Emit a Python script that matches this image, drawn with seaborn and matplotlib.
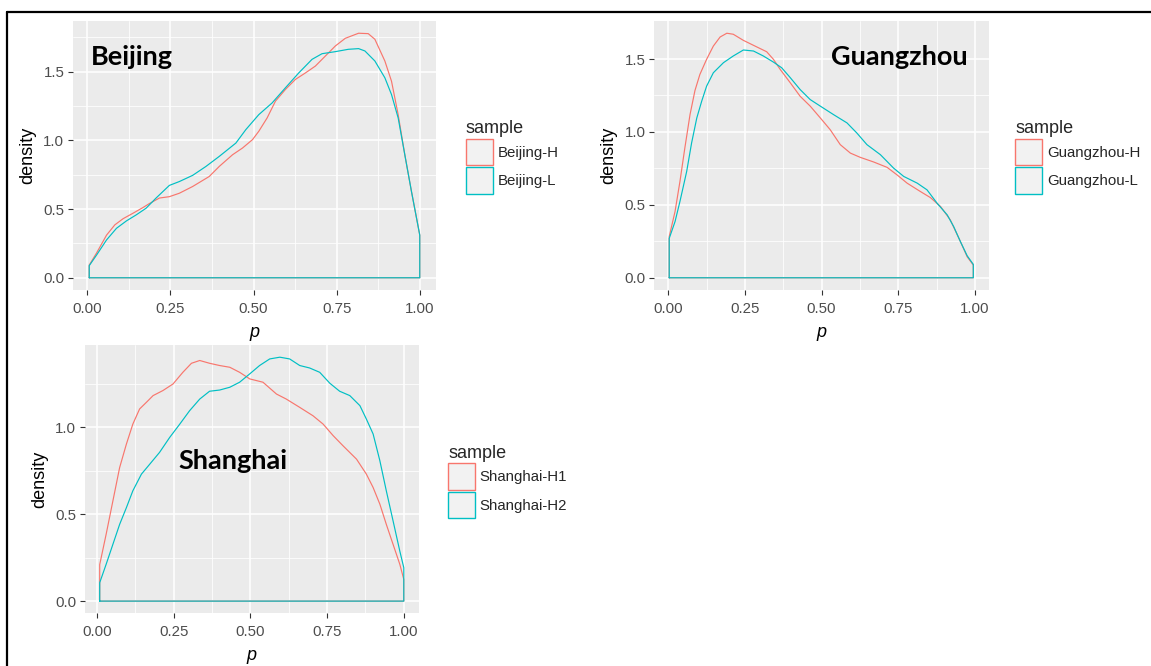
import numpy as np
import pandas as pd
import matplotlib
matplotlib.use("Agg")
import matplotlib.pyplot as plt
import seaborn as sns
from matplotlib.patches import Patch
from matplotlib.lines import Line2D

# ---------------- data ----------------
bj_h_p = [0.006, 0.028, 0.058, 0.083, 0.108, 0.138, 0.167, 0.187, 0.217, 0.247,
          0.277, 0.317, 0.367, 0.397, 0.437, 0.467, 0.497, 0.516, 0.541, 0.566,
          0.596, 0.626, 0.656, 0.686, 0.716, 0.746, 0.776, 0.816, 0.845, 0.865,
          0.895, 0.915, 0.935, 0.955, 0.975, 1.0]
bj_h_d = [0.092, 0.18, 0.31, 0.385, 0.43, 0.47, 0.51, 0.54, 0.58, 0.59,
          0.615, 0.664, 0.737, 0.81, 0.895, 0.944, 1.005, 1.066, 1.163, 1.285,
          1.37, 1.443, 1.49, 1.54, 1.613, 1.686, 1.742, 1.779, 1.776, 1.735,
          1.577, 1.43, 1.187, 0.895, 0.628, 0.31]
bj_l_p = [0.006, 0.028, 0.058, 0.088, 0.118, 0.147, 0.177, 0.207, 0.247, 0.277,
          0.317, 0.357, 0.397, 0.447, 0.477, 0.516, 0.556, 0.596, 0.636, 0.676,
          0.706, 0.746, 0.785, 0.816, 0.835, 0.865, 0.895, 0.915, 0.935, 0.955,
          0.975, 1.0]
bj_l_d = [0.088, 0.165, 0.275, 0.36, 0.414, 0.457, 0.506, 0.58, 0.672, 0.70,
          0.745, 0.81, 0.883, 0.98, 1.078, 1.187, 1.272, 1.382, 1.49, 1.589,
          1.63, 1.645, 1.662, 1.667, 1.65, 1.577, 1.455, 1.333, 1.163, 0.895,
          0.628, 0.31]

gz_h_p = [0.003, 0.022, 0.038, 0.054, 0.071, 0.087, 0.103, 0.125, 0.147, 0.169,
          0.191, 0.212, 0.245, 0.278, 0.321, 0.343, 0.365, 0.398, 0.430, 0.463,
          0.496, 0.528, 0.561, 0.594, 0.626, 0.670, 0.714, 0.746, 0.779, 0.822,
          0.855, 0.888, 0.920, 0.953, 0.975, 0.995]
gz_h_d = [0.282, 0.454, 0.66, 0.89, 1.12, 1.284, 1.394, 1.498, 1.589, 1.651,
          1.677, 1.67, 1.628, 1.594, 1.55, 1.498, 1.429, 1.337, 1.245, 1.177,
          1.096, 1.016, 0.913, 0.855, 0.826, 0.794, 0.757, 0.706, 0.649, 0.592,
          0.55, 0.489, 0.397, 0.248, 0.144, 0.087]
gz_l_p = [0.003, 0.022, 0.038, 0.060, 0.076, 0.093, 0.109, 0.125, 0.147, 0.180,
          0.212, 0.245, 0.278, 0.310, 0.343, 0.370, 0.398, 0.430, 0.463, 0.496,
          0.539, 0.583, 0.615, 0.648, 0.692, 0.735, 0.768, 0.812, 0.844, 0.877,
          0.910, 0.931, 0.953, 0.975, 0.995]
gz_l_d = [0.27, 0.385, 0.523, 0.729, 0.924, 1.096, 1.211, 1.314, 1.406, 1.475,
          1.521, 1.562, 1.555, 1.521, 1.479, 1.44, 1.372, 1.291, 1.222, 1.177,
          1.119, 1.062, 0.993, 0.913, 0.844, 0.752, 0.695, 0.649, 0.603, 0.511,
          0.431, 0.351, 0.248, 0.151, 0.092]

sh_h1_p = [0.009, 0.03, 0.052, 0.074, 0.096, 0.117, 0.139, 0.161, 0.183, 0.215,
           0.248, 0.28, 0.308, 0.335, 0.367, 0.4, 0.433, 0.465, 0.498, 0.541,
           0.585, 0.617, 0.661, 0.704, 0.737, 0.77, 0.802, 0.846, 0.878, 0.9,
           0.922, 0.943, 0.965, 0.987, 1.0]
sh_h1_d = [0.21, 0.385, 0.577, 0.769, 0.904, 1.019, 1.106, 1.144, 1.183, 1.212,
           1.25, 1.317, 1.369, 1.385, 1.369, 1.356, 1.346, 1.317, 1.279, 1.26,
           1.192, 1.163, 1.115, 1.067, 1.019, 0.952, 0.894, 0.817, 0.731, 0.654,
           0.558, 0.442, 0.327, 0.212, 0.125]
sh_h2_p = [0.009, 0.03, 0.052, 0.074, 0.096, 0.117, 0.145, 0.172, 0.204, 0.237,
           0.27, 0.302, 0.335, 0.367, 0.4, 0.433, 0.465, 0.498, 0.53, 0.563,
           0.596, 0.628, 0.661, 0.693, 0.726, 0.759, 0.791, 0.824, 0.857, 0.878,
           0.9, 0.922, 0.943, 0.965, 0.987, 1.0]
sh_h2_d = [0.106, 0.212, 0.327, 0.442, 0.538, 0.635, 0.731, 0.788, 0.856, 0.942,
           1.019, 1.096, 1.163, 1.208, 1.215, 1.231, 1.26, 1.308, 1.356, 1.394,
           1.404, 1.394, 1.356, 1.342, 1.317, 1.254, 1.208, 1.183, 1.125, 1.048,
           0.962, 0.808, 0.635, 0.462, 0.288, 0.192]

x_ticks = [0.0, 0.25, 0.5, 0.75, 1.0]
x_tick_labels = ["0.00", "0.25", "0.50", "0.75", "1.00"]

panels = [
    dict(city="Beijing", labels=["Beijing-H", "Beijing-L"],
         series=[(bj_h_p, bj_h_d), (bj_l_p, bj_l_d)],
         yticks=[0.0, 0.5, 1.0, 1.5], yminor=[0.25, 0.75, 1.25, 1.75],
         text_xy=(0.012, 1.547)),
    dict(city="Guangzhou", labels=["Guangzhou-H", "Guangzhou-L"],
         series=[(gz_h_p, gz_h_d), (gz_l_p, gz_l_d)],
         yticks=[0.0, 0.5, 1.0, 1.5], yminor=[0.25, 0.75, 1.25],
         text_xy=(0.531, 1.459)),
    dict(city="Shanghai", labels=["Shanghai-H1", "Shanghai-H2"],
         series=[(sh_h1_p, sh_h1_d), (sh_h2_p, sh_h2_d)],
         yticks=[0.0, 0.5, 1.0], yminor=[0.25, 0.75, 1.25],
         text_xy=(0.267, 0.76)),
]

colors = ["#F8766D", "#00BFC4"]

# ---------------- style ----------------
sns.set_theme(style="darkgrid", rc={
    "axes.facecolor": "#EBEBEB",
    "figure.facecolor": "white",
    "grid.color": "white",
})
plt.rcParams["font.family"] = ["Liberation Sans", "DejaVu Sans"]

W, H = 1151, 666
fig = plt.figure(figsize=(W / 100, H / 100), dpi=100)

# axes rectangles in pixels (left, top, right, bottom)
rects = [(72.7, 21, 436.3, 290), (654, 21, 988.5, 290), (84.5, 345, 419, 613.3)]
legend_pos = [(466, 120), (1015, 120), (448, 444.5)]


def px_rect(l, t, r, b):
    return [l / W, 1 - b / H, (r - l) / W, (b - t) / H]


for pan, rect, lpos in zip(panels, rects, legend_pos):
    ax = fig.add_axes(px_rect(*rect))
    frames = []
    for lab, (p, d) in zip(pan["labels"], pan["series"]):
        # closed density outline like ggplot's geom_density
        pp = [p[0]] + list(p) + [p[-1], p[0]]
        dd = [0.0] + list(d) + [0.0, 0.0]
        frames.append(pd.DataFrame({"p": pp, "density": dd, "sample": lab}))
    df = pd.concat(frames, ignore_index=True)
    sns.lineplot(data=df, x="p", y="density", hue="sample",
                 palette=dict(zip(pan["labels"], colors)), sort=False,
                 estimator=None, legend=False, linewidth=0.85, ax=ax)

    allp = np.concatenate([s[0] for s in pan["series"]])
    alld = np.concatenate([s[1] for s in pan["series"]])
    xr = allp.max() - allp.min()
    ax.set_xlim(allp.min() - 0.05 * xr, allp.max() + 0.05 * xr)
    ymax = alld.max()
    ax.set_ylim(-0.05 * ymax, ymax * 1.05)

    ax.set_xticks(x_ticks)
    ax.set_xticklabels(x_tick_labels)
    ax.set_xticks([0.125, 0.375, 0.625, 0.875], minor=True)
    ax.set_yticks(pan["yticks"])
    ax.set_yticklabels([f"{v:.1f}" for v in pan["yticks"]])
    ax.set_yticks(pan["yminor"], minor=True)
    ax.grid(which="major", color="white", linewidth=1.1)
    ax.grid(which="minor", color="white", linewidth=0.55)
    ax.tick_params(which="major", length=3.5, width=0.8, color="#333333",
                   labelsize=10.8, labelcolor="#4D4D4D", pad=2.5,
                   bottom=True, left=True)
    ax.tick_params(axis="x", which="major", pad=5)
    ax.tick_params(which="minor", length=0)
    for s in ax.spines.values():
        s.set_visible(False)
    ax.set_xlabel("p", fontsize=13, style="italic", color="black", labelpad=6)
    ax.set_ylabel("density", fontsize=13, color="black", labelpad=5)

    ax.text(pan["text_xy"][0], pan["text_xy"][1], pan["city"],
            fontsize=19.5, fontweight="bold", family=["Lato", "DejaVu Sans"],
            ha="left", va="baseline", color="black")

    handles = [Patch(facecolor="#F2F2F2", edgecolor=c, linewidth=1.0)
               for c in colors]
    fig.legend(handles, pan["labels"], title="sample", loc="upper left",
               bbox_to_anchor=(lpos[0] / W, 1 - lpos[1] / H),
               frameon=False, fontsize=10.8, title_fontsize=13,
               handlelength=1.82, handleheight=2.33, handletextpad=0.3,
               labelspacing=0.13, borderpad=0, borderaxespad=0,
               alignment="left")

# border lines of the screenshot
fig.add_artist(Line2D([6.5 / W, 1.0], [1 - 12 / H, 1 - 12 / H],
                      transform=fig.transFigure, color="black", linewidth=1.6))
fig.add_artist(Line2D([7 / W, 7 / W], [0.0, 1 - 12 / H],
                      transform=fig.transFigure, color="black", linewidth=1.6))

fig.savefig("out.png", dpi=100)
